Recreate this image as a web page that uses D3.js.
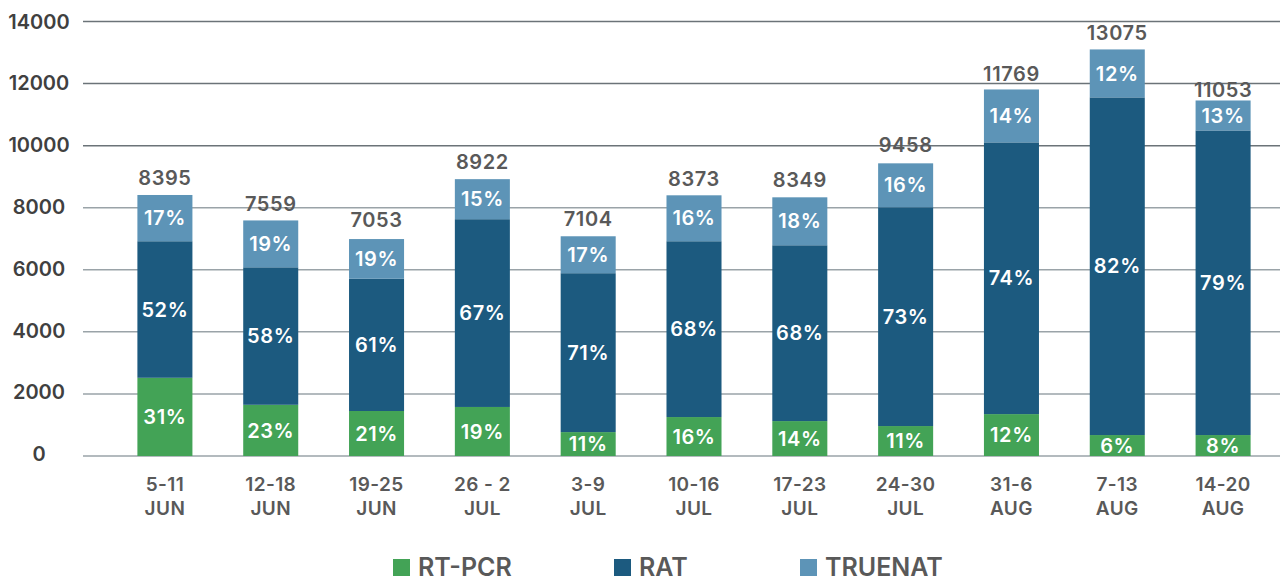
<!DOCTYPE html>
<html>
<head>
<meta charset="utf-8">
<script src="https://d3js.org/d3.v7.min.js"></script>
<style>
body { margin: 0; background: #fff; }
text { font-family: Inter, "Open Sans", sans-serif; font-weight: 600; }
</style>
</head>
<body>
<script>
var width = 1280, height = 582;

// week labels (two lines each)
var weeks = ["5-11", "12-18", "19-25", "26 - 2", "3-9", "10-16", "17-23", "24-30", "31-6", "7-13", "14-20"];
var months = ["JUN", "JUN", "JUN", "JUL", "JUL", "JUL", "JUL", "JUL", "AUG", "AUG", "AUG"];

// segment sizes
var rtpcr   = [2520, 1650, 1450, 1580, 770, 1255, 1125, 965, 1350, 675, 675];
var rat     = [4400, 4430, 4260, 6050, 5120, 5665, 5665, 7050, 8755, 10880, 9815];
var truenat = [1490, 1510, 1280, 1290, 1190, 1480, 1545, 1415, 1705, 1545, 965];

// labels printed on the chart
var totals     = [8395, 7559, 7053, 8922, 7104, 8373, 8349, 9458, 11769, 13075, 11053];
var rtpcrPct   = [31, 23, 21, 19, 11, 16, 14, 11, 12, 6, 8];
var ratPct     = [52, 58, 61, 67, 71, 68, 68, 73, 74, 82, 79];
var truenatPct = [17, 19, 19, 15, 17, 16, 18, 16, 14, 12, 13];

var yTicks = [0, 2000, 4000, 6000, 8000, 10000, 12000, 14000];

var seriesNames = ["RT-PCR", "RAT", "TRUENAT"];
var colors = ["#43a356", "#1c5a7f", "#5d94b7"];

var rows = weeks.map(function(w, i) {
  return {i: i, week: w, month: months[i], "RT-PCR": rtpcr[i], "RAT": rat[i], "TRUENAT": truenat[i]};
});
var pcts = [rtpcrPct, ratPct, truenatPct];

var svg = d3.select("body").append("svg")
  .attr("width", width).attr("height", height);

var x = d3.scaleBand()
  .domain(d3.range(weeks.length))
  .range([112, 1276])
  .paddingInner(0.48)
  .paddingOuter(0.24);

var y = d3.scaleLinear()
  .domain([0, 14000])
  .range([456, 21.5]);

// gridlines
svg.append("g").selectAll("line").data(yTicks).enter().append("line")
  .attr("x1", 83).attr("x2", width)
  .attr("y1", function(d) { return y(d); })
  .attr("y2", function(d) { return y(d); })
  .attr("stroke", function(d) { return d >= 10000 ? "#6b7378" : "#9aa3a8"; })
  .attr("stroke-width", 1.5);

// y tick labels
svg.append("g").selectAll("text").data(yTicks).enter().append("text")
  .attr("x", 39)
  .attr("y", function(d) { return y(d) - 2 * (1 - d / 14000); })
  .attr("dy", "0.36em")
  .attr("text-anchor", "middle")
  .attr("font-size", 20)
  .attr("fill", "#404040")
  .text(function(d) { return d; });

var stack = d3.stack().keys(seriesNames)(rows);

var layers = svg.append("g").selectAll("g").data(stack).enter().append("g")
  .attr("fill", function(d, k) { return colors[k]; });

layers.selectAll("rect").data(function(d) { return d; }).enter().append("rect")
  .attr("x", function(d) { return x(d.data.i); })
  .attr("width", x.bandwidth())
  .attr("y", function(d) { return y(d[1]); })
  .attr("height", function(d) { return y(d[0]) - y(d[1]); });

// percent labels
stack.forEach(function(layer, k) {
  svg.append("g").selectAll("text").data(layer).enter().append("text")
    .attr("x", function(d) { return x(d.data.i) + x.bandwidth() / 2; })
    .attr("y", function(d) { return (y(d[0]) + y(d[1])) / 2; })
    .attr("dy", "0.36em")
    .attr("text-anchor", "middle")
    .attr("font-size", 20)
    .attr("letter-spacing", 0.6)
    .attr("fill", "#fff")
    .text(function(d) { return pcts[k][d.data.i] + "%"; });
});

// totals above bars
var topLayer = stack[stack.length - 1];
svg.append("g").selectAll("text").data(totals).enter().append("text")
  .attr("x", function(d, i) { return x(i) + x.bandwidth() / 2; })
  .attr("y", function(d, i) { return Math.min(y(d) - 10, y(topLayer[i][1]) - 3); })
  .attr("text-anchor", "middle")
  .attr("font-size", 20)
  .attr("letter-spacing", 0.6)
  .attr("fill", "#595959")
  .text(function(d) { return d; });

// x labels
var xl = svg.append("g").selectAll("text").data(rows).enter().append("text")
  .attr("text-anchor", "middle")
  .attr("font-size", 19)
  .attr("letter-spacing", 0.4)
  .attr("fill", "#595959");
xl.append("tspan")
  .attr("x", function(d) { return x(d.i) + x.bandwidth() / 2; })
  .attr("y", 490.5)
  .text(function(d) { return d.week; });
xl.append("tspan")
  .attr("x", function(d) { return x(d.i) + x.bandwidth() / 2; })
  .attr("y", 514.5)
  .text(function(d) { return d.month; });

// legend
var legendX = [393, 614, 800];
var lg = svg.append("g").selectAll("g").data(seriesNames).enter().append("g")
  .attr("transform", function(d, k) { return "translate(" + legendX[k] + ",0)"; });
lg.append("rect")
  .attr("y", 559).attr("width", 17).attr("height", 17)
  .attr("fill", function(d, k) { return colors[k]; });
lg.append("text")
  .attr("x", 25).attr("y", 576)
  .attr("font-size", 25)
  .attr("fill", "#595959")
  .text(function(d) { return d; });
</script>
</body>
</html>
